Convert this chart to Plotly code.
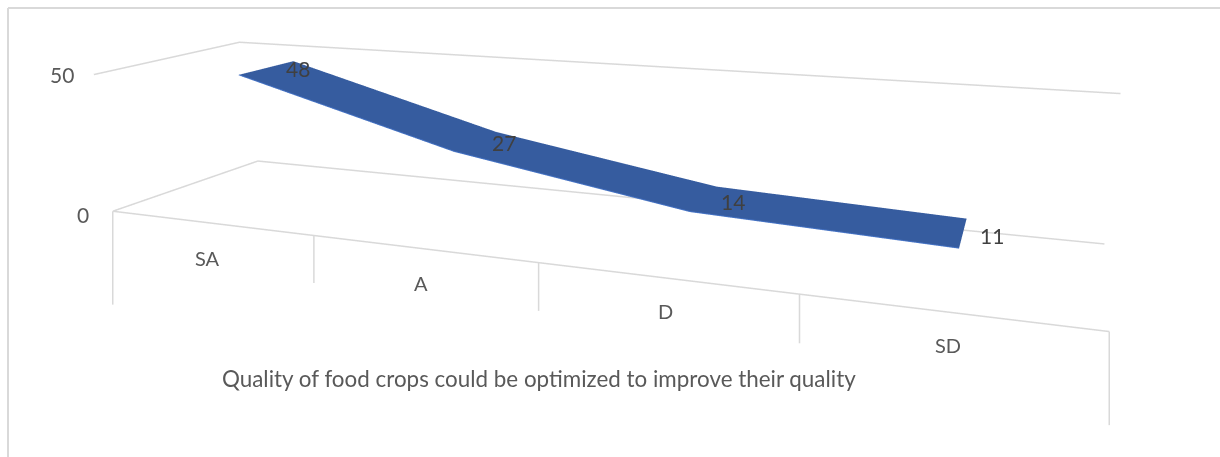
import numpy as np
import plotly.graph_objects as go

categories = ["SA", "A", "D", "SD"]
values = [48, 27, 14, 11]
axis_ticks = [0, 50]
title = "Quality of food crops could be optimized to improve their quality"

W, VH, H = 1220, 457, 888
ZR = (-45.0, 55.0)

# camera and box shape of the 3-D scene
EYE = np.array([0.4010, -1.0211, 0.3145])
CENTER = np.array([0.1285, -0.2773, -0.1093])
UP = np.array([0.0019, -0.0044, 1.0])
ASPECT_Y, ASPECT_Z = 0.2476, 0.2882
RIBBON_Y = (0.3209, 0.7171)


def project(x, y, z):
    """Page position of a scene point, used only to place text offsets."""
    P = np.array([x / 4 - .5, (y - .5) * ASPECT_Y, (z - sum(ZR) / 2) / (ZR[1] - ZR[0]) * ASPECT_Z])
    f = CENTER - EYE; f = f / np.linalg.norm(f)
    s = np.cross(f, UP); s = s / np.linalg.norm(s)
    t = np.cross(s, f)
    d = P - EYE
    zc = d @ f
    k = 1 / np.tan(np.pi / 8)
    return ((k * H / W * (d @ s) / zc + 1) / 2 * W, (1 - k * (d @ t) / zc) / 2 * H)


GRID = "#D9D9D9"
TEXT = "#595959"
n = len(categories)
xs = [i + .5 for i in range(n)]
y1, y2 = RIBBON_Y

fig = go.Figure()


def line(x, y, z, color=GRID, w=3):
    fig.add_trace(go.Scatter3d(x=x, y=y, z=z, mode="lines", line=dict(color=color, width=w),
                               hoverinfo="skip", showlegend=False))


def vert_x(i, z):
    tx = project(i, 0, 0)[0]
    lo, hi = i - 1.0, i + 1.0
    for _ in range(50):
        m = (lo + hi) / 2
        if project(m, 0, z)[0] < tx:
            lo = m
        else:
            hi = m
    return m


# walls and floor outline
line([0.03, 0, n - 0.03], [0, 1, 1], [axis_ticks[1]] * 3)
line([-0.03, 0, n + 0.03], [0, 1, 1], [axis_ticks[0]] * 3)
line([-0.03, n + 0.01], [0, 0], [0, 0])

# category separators below the floor
drop = [-39, -18, -17, -16, -28.5]
for i in range(n + 1):
    x0 = i + (-0.03 if i == 0 else 0.01 if i == n else 0)
    line([x0, vert_x(x0, drop[i])], [0, 0], [0, drop[i]])

fig.add_trace(go.Surface(x=[xs, xs], y=[[y1] * n, [y2] * n], z=[values, values],
                         colorscale=[[0, "#365C9F"], [1, "#365C9F"]], showscale=False, hoverinfo="skip",
                         lighting=dict(ambient=1, diffuse=0, specular=0, fresnel=0)))
line(xs, [y1] * n, values, "#4472C4", 2)


def shift(x, y, z, tx, ty):
    a, b = project(x, y, z)
    return dict(xshift=float(tx - a), yshift=float(b - ty))


ann = []
cat_xy = [(207, 258), (421, 283), (665, 311), (948, 345)]
for c, x, t in zip(categories, xs, cat_xy):
    ann.append(dict(x=x, y=0, z=0, text=c, showarrow=False,
                    font=dict(family="Lato", size=20, color=TEXT), **shift(x, 0, 0, *t)))
val_xy = [(298, 69), (504, 143), (733, 201), (992, 235)]
for v, x, t in zip(values, xs, val_xy):
    ann.append(dict(x=x, y=y2, z=v, text=str(v), showarrow=False,
                    font=dict(family="Lato", size=21, color="#404040"), **shift(x, y2, v, *t)))
for tk, t in zip(axis_ticks, [(83, 215), (62, 75)]):
    ann.append(dict(x=0, y=0, z=tk, text=str(tk), showarrow=False,
                    font=dict(family="Lato", size=21, color=TEXT), **shift(0, 0, tk, *t)))

ax = dict(visible=False, showgrid=False, zeroline=False, showspikes=False)
fig.update_layout(
    width=W, height=H, margin=dict(l=0, r=0, t=0, b=0), paper_bgcolor="white", showlegend=False,
    scene=dict(
        domain=dict(x=[0, 1], y=[0, 1]), bgcolor="white", aspectmode="manual",
        aspectratio=dict(x=1.5, y=ASPECT_Y, z=ASPECT_Z),
        xaxis=dict(ax, range=[-1, n + 1]), yaxis=dict(ax, range=[0, 1]), zaxis=dict(ax, range=list(ZR)),
        camera=dict(eye=dict(x=EYE[0], y=EYE[1], z=EYE[2]),
                    center=dict(x=CENTER[0], y=CENTER[1], z=CENTER[2]),
                    up=dict(x=UP[0], y=UP[1], z=UP[2])),
        annotations=ann),
    annotations=[dict(x=539 / W, y=1 - 378 / H, xref="paper", yref="paper", text=title, showarrow=False,
                      font=dict(family="Lato", size=22.4, color=TEXT))],
    shapes=[dict(type="line", xref="paper", yref="paper", x0=8 / W, x1=1, y0=1 - 8 / H, y1=1 - 8 / H,
                 line=dict(color=GRID, width=2)),
            dict(type="line", xref="paper", yref="paper", x0=8 / W, x1=8 / W, y0=0, y1=1 - 8 / H,
                 line=dict(color=GRID, width=2))],
)
fig.write_html("out.html", config={"displayModeBar": False},
               post_script="document.body.style.margin='0';document.documentElement.style.overflow='hidden';"
                           "document.body.style.overflow='hidden';document.body.style.height='%dpx';" % VH)
